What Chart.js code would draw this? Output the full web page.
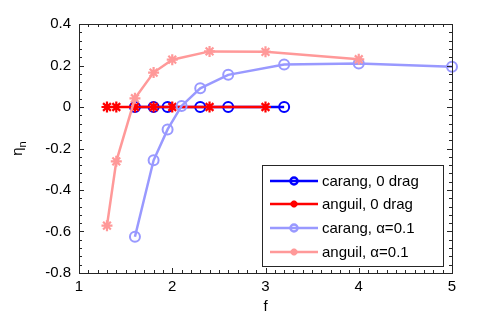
<!DOCTYPE html>
<html>
<head>
<meta charset="utf-8">
<script src="https://cdn.jsdelivr.net/npm/chart.js@4/dist/chart.umd.min.js"></script>
<style>
  html, body { margin: 0; padding: 0; background: #fff; }
  #wrap { width: 498px; height: 321px; }
</style>
</head>
<body>
<div id="wrap"><canvas id="chartData" width="498" height="321"></canvas></div>
<script>
// data
let carangZeroF = [1.6, 1.8, 1.95, 2.3, 2.6, 3.2];
let carangZeroEta = [0, 0, 0, 0, 0, 0];
let anguilZeroF = [1.3, 1.4, 1.6, 1.8, 2.0, 2.4, 3.0];
let anguilZeroEta = [0, 0, 0, 0, 0, 0, 0];
let carangDragF = [1.6, 1.8, 1.95, 2.1, 2.3, 2.6, 3.2, 4.0, 5.0];
let carangDragEta = [-0.625, -0.257, -0.108, 0.005, 0.09, 0.155, 0.205, 0.21, 0.194];
let anguilDragF = [1.3, 1.4, 1.6, 1.8, 2.0, 2.4, 3.0, 4.0];
let anguilDragEta = [-0.572, -0.262, 0.042, 0.166, 0.228, 0.268, 0.266, 0.23];
let seriesNames = ["carang, 0 drag", "anguil, 0 drag", "carang, \u03b1=0.1", "anguil, \u03b1=0.1"];
let xTicks = [1, 2, 3, 4, 5];
let yTicks = [0.4, 0.2, 0, -0.2, -0.4, -0.6, -0.8];

const FONT = "'Liberation Sans', Arial, sans-serif";
const AXIS = "#262626";

function toPoints(xs, ys) {
    return xs.map((x, i) => ({ x: x, y: ys[i] }));
}

function makeSet(name, xs, ys, color, style, order) {
    return {
        label: name,
        data: toPoints(xs, ys),
        borderColor: color,
        backgroundColor: style === "circle" ? "rgba(0,0,0,0)" : color,
        pointBorderColor: color,
        pointBackgroundColor: style === "circle" ? "rgba(0,0,0,0)" : color,
        pointStyle: style,
        pointRadius: style === "circle" ? 5 : 5.5,
        pointBorderWidth: style === "circle" ? 2 : 2.2,
        borderWidth: 2.5,
        tension: 0,
        clip: false,
        order: order
    };
}

// frame with inside ticks, like the original axes
const framePlugin = {
    id: "frame",
    afterDatasetsDraw(chart) {
        const ctx = chart.ctx;
        const a = chart.chartArea;
        const xs = chart.scales.x, ys = chart.scales.y;
        ctx.save();
        ctx.strokeStyle = AXIS;
        ctx.lineWidth = 1;
        ctx.beginPath();
        // minor x ticks every 0.1
        for (let i = 10; i <= 50; i++) {
            const px = Math.round(xs.getPixelForValue(i / 10)) + 0.5;
            const len = i % 10 === 0 ? 5 : 3;
            ctx.moveTo(px, a.bottom); ctx.lineTo(px, a.bottom - len);
            ctx.moveTo(px, a.top); ctx.lineTo(px, a.top + len);
        }
        // minor y ticks every 0.04
        for (let i = -20; i <= 10; i++) {
            const py = Math.round(ys.getPixelForValue(i * 0.04)) + 0.5;
            const len = i % 5 === 0 ? 5 : 3;
            ctx.moveTo(a.left, py); ctx.lineTo(a.left + len, py);
            ctx.moveTo(a.right, py); ctx.lineTo(a.right - len, py);
        }
        ctx.stroke();
        ctx.strokeRect(Math.round(a.left) + 0.5, Math.round(a.top) + 0.5,
            Math.round(a.right - a.left), Math.round(a.bottom - a.top));

        // axis labels
        ctx.fillStyle = "#000";
        ctx.font = "15px " + FONT;
        ctx.textAlign = "center";
        ctx.textBaseline = "middle";
        ctx.fillText("f", (a.left + a.right) / 2, 307);

        ctx.translate(18, (a.top + a.bottom) / 2);
        ctx.rotate(-Math.PI / 2);
        ctx.textAlign = "left";
        ctx.textBaseline = "alphabetic";
        ctx.font = "15px " + FONT;
        const w = ctx.measureText("\u03b7").width;
        ctx.font = "11px " + FONT;
        const w2 = ctx.measureText("n").width;
        const x0 = -(w + w2) / 2;
        ctx.font = "15px " + FONT;
        ctx.fillText("\u03b7", x0, 4);
        ctx.font = "11px " + FONT;
        ctx.fillText("n", x0 + w, 8);
        ctx.restore();
    },
    afterDraw(chart) {
        const ctx = chart.ctx;
        const box = { left: 262, top: 165, right: 443, bottom: 266 };
        ctx.save();
        ctx.fillStyle = "#fff";
        ctx.fillRect(box.left, box.top, box.right - box.left, box.bottom - box.top);
        ctx.strokeStyle = AXIS;
        ctx.lineWidth = 1;
        ctx.strokeRect(box.left + 0.5, box.top + 0.5, box.right - box.left, box.bottom - box.top);
        const rows = [181, 204, 228, 252];
        chart.data.datasets.forEach((ds, i) => {
            const y = rows[i];
            ctx.strokeStyle = ds.borderColor;
            ctx.lineWidth = 2.5;
            ctx.beginPath();
            ctx.moveTo(270, y); ctx.lineTo(318, y);
            ctx.stroke();
            ctx.fillStyle = ds.pointBackgroundColor;
            ctx.strokeStyle = ds.pointBorderColor;
            Chart.helpers.drawPoint(ctx, {
                pointStyle: ds.pointStyle,
                radius: 3.5,
                borderWidth: ds.pointStyle === "circle" ? 1.8 : 2,
                rotation: 0
            }, 294, y);
            ctx.fillStyle = "#000";
            ctx.font = "15px " + FONT;
            ctx.textAlign = "left";
            ctx.textBaseline = "middle";
            ctx.fillText(ds.label, 322, y + 1);
        });
        ctx.restore();
    }
};

new Chart(document.getElementById("chartData").getContext("2d"), {
    type: "line",
    data: {
        datasets: [
            makeSet(seriesNames[0], carangZeroF, carangZeroEta, "#0000ff", "circle", 4),
            makeSet(seriesNames[1], anguilZeroF, anguilZeroEta, "#ff0000", "star", 3),
            makeSet(seriesNames[2], carangDragF, carangDragEta, "#9999ff", "circle", 2),
            makeSet(seriesNames[3], anguilDragF, anguilDragEta, "#ff9999", "star", 1)
        ]
    },
    options: {
        responsive: false,
        animation: false,
        devicePixelRatio: 1,
        layout: { padding: { top: 24, right: 46, left: 0, bottom: 0 } },
        plugins: { legend: { display: false }, tooltip: { enabled: false } },
        scales: {
            x: {
                type: "linear",
                min: 1, max: 5,
                grid: { display: false, drawTicks: false },
                border: { display: false },
                afterBuildTicks: s => { s.ticks = xTicks.map(v => ({ value: v })); },
                afterFit: s => { s.height = 48; },
                ticks: {
                    color: "#000",
                    padding: 5,
                    autoSkip: false,
                    font: { family: FONT, size: 15 },
                    maxRotation: 0,
                    callback: v => String(v)
                }
            },
            y: {
                type: "linear",
                min: -0.8, max: 0.4,
                grid: { display: false, drawTicks: false },
                border: { display: false },
                afterBuildTicks: s => { s.ticks = yTicks.map(v => ({ value: v })); },
                afterFit: s => { s.width = 79; },
                ticks: {
                    color: "#000",
                    padding: 8,
                    autoSkip: false,
                    font: { family: FONT, size: 15 },
                    callback: v => {
                        const r = Math.round(v * 10) / 10;
                        return r === 0 ? "0" : String(r);
                    }
                }
            }
        }
    },
    plugins: [framePlugin]
});
</script>
</body>
</html>
